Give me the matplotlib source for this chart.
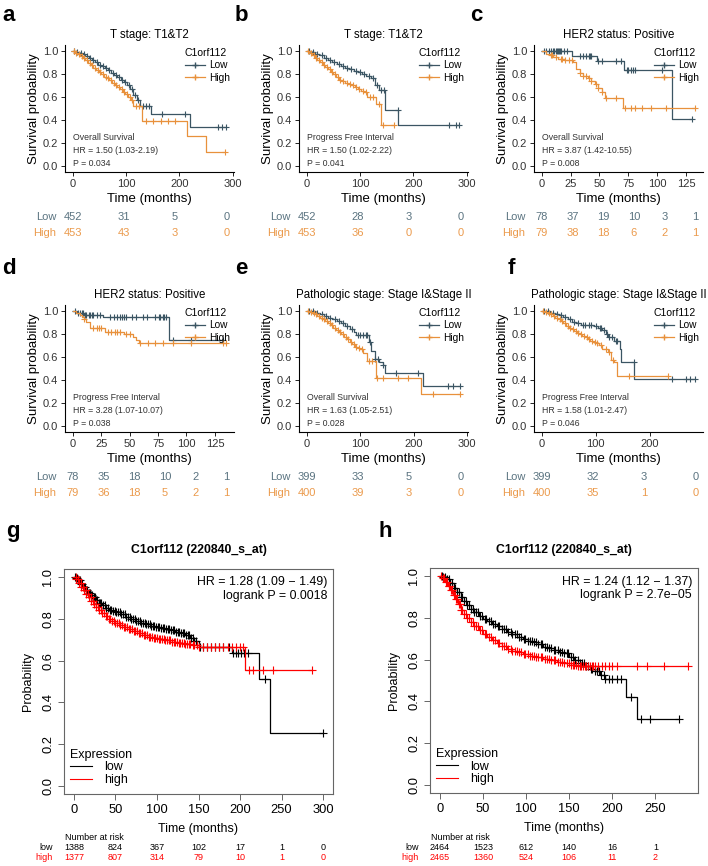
import matplotlib
matplotlib.use('Agg')
import matplotlib.pyplot as plt
import matplotlib.transforms as mtransforms
from matplotlib.lines import Line2D
import numpy as np

plt.rcParams['font.family'] = ['Liberation Sans', 'DejaVu Sans']

LOW_COL = '#3b5563'
HIGH_COL = '#e8913c'
LOW_TXT = '#5a7380'
HIGH_TXT = '#eb9a4c'

# ---------------- data: step times (months), survival after step, censor times
# a: OS, T stage T1&T2
a_low_t = [6, 12, 18, 24, 30, 36, 42, 48, 54, 60, 66, 72, 78, 84, 90, 96, 102, 108, 114, 120, 126, 146, 219]
a_low_s = [0.99, 0.98, 0.97, 0.955, 0.935, 0.92, 0.90, 0.88, 0.865, 0.85, 0.83, 0.81, 0.79, 0.77, 0.75, 0.73, 0.70, 0.665, 0.62, 0.575, 0.52, 0.455, 0.336]
a_low_c = [3, 9, 15, 21, 27, 33, 39, 45, 51, 57, 63, 69, 75, 81, 87, 93, 99, 105, 111, 117, 123, 131, 137, 143, 167, 210, 272, 280, 287]
a_high_t = [4, 9, 14, 19, 24, 29, 34, 39, 44, 49, 54, 59, 64, 69, 74, 79, 84, 89, 94, 99, 104, 109, 114, 130, 215, 249]
a_high_s = [0.985, 0.97, 0.955, 0.94, 0.92, 0.895, 0.875, 0.855, 0.835, 0.815, 0.795, 0.775, 0.76, 0.745, 0.725, 0.705, 0.685, 0.665, 0.645, 0.625, 0.60, 0.575, 0.52, 0.394, 0.264, 0.124]
a_high_c = [2, 7, 12, 17, 22, 27, 32, 37, 42, 47, 52, 57, 62, 67, 72, 77, 82, 87, 92, 97, 102, 107, 112, 118, 124, 138, 151, 165, 179, 191, 286]

# b: PFI, T stage T1&T2
b_low_t = [8, 16, 24, 32, 40, 48, 56, 64, 72, 80, 88, 96, 104, 112, 120, 128, 136, 147, 172]
b_low_s = [0.99, 0.975, 0.96, 0.94, 0.92, 0.905, 0.885, 0.865, 0.85, 0.84, 0.825, 0.815, 0.80, 0.785, 0.76, 0.70, 0.66, 0.484, 0.36]
b_low_c = [4, 12, 20, 28, 36, 44, 52, 60, 68, 76, 84, 92, 100, 108, 116, 124, 132, 140, 144, 171, 267, 280, 286]
b_high_t = [5, 10, 15, 20, 25, 30, 35, 40, 45, 50, 55, 60, 66, 72, 78, 84, 90, 96, 102, 108, 114, 130, 140]
b_high_s = [0.985, 0.965, 0.94, 0.92, 0.90, 0.88, 0.86, 0.84, 0.82, 0.80, 0.775, 0.75, 0.735, 0.72, 0.71, 0.70, 0.685, 0.67, 0.655, 0.64, 0.60, 0.536, 0.354]
b_high_c = [3, 8, 13, 18, 23, 28, 33, 38, 43, 48, 53, 58, 63, 69, 75, 81, 87, 93, 99, 105, 112, 118, 124, 135, 143, 164]

# c: OS, HER2 positive
c_low_t = [26, 48, 71, 113]
c_low_s = [0.954, 0.91, 0.83, 0.41]
c_low_c = [2, 4, 6, 8, 10, 11, 12, 13, 14, 15, 16, 17, 19, 22, 33, 36, 38, 41, 42, 43, 49, 52, 64, 69, 74, 75, 77, 79, 81, 104, 130]
c_high_t = [4, 7, 10, 14, 19, 27, 30, 33, 36, 40, 43, 46, 49, 52, 55, 70]
c_high_s = [0.975, 0.96, 0.945, 0.93, 0.92, 0.90, 0.84, 0.81, 0.785, 0.76, 0.735, 0.71, 0.68, 0.64, 0.59, 0.506]
c_high_c = [8, 9, 12, 17, 18, 20, 24, 26, 33, 36, 38, 41, 43, 47, 49, 52, 56, 64, 72, 77, 81, 87, 95, 108, 133]

# d: PFI, HER2 positive
d_low_t = [4, 10, 27, 85]
d_low_s = [0.98, 0.967, 0.95, 0.75]
d_low_c = [2, 5, 6, 8, 9, 11, 12, 14, 15, 17, 18, 21, 24, 33, 36, 39, 42, 43, 45, 47, 52, 56, 62, 65, 72, 76, 77, 79, 80, 82, 88, 104, 132]
d_high_t = [3, 6, 8, 10, 12, 15, 28, 45, 53, 56, 58]
d_high_s = [0.985, 0.965, 0.95, 0.93, 0.90, 0.853, 0.818, 0.80, 0.775, 0.75, 0.717]
d_high_c = [10, 18, 21, 23, 25, 31, 34, 37, 39, 42, 47, 50, 59, 66, 72, 79, 88, 104, 132, 135]

# e: OS, pathologic stage I&II
e_low_t = [8, 16, 24, 32, 40, 48, 56, 64, 72, 80, 88, 92, 116, 121, 127, 136, 142, 147, 217]
e_low_s = [0.995, 0.985, 0.97, 0.955, 0.94, 0.925, 0.91, 0.89, 0.87, 0.845, 0.815, 0.79, 0.727, 0.655, 0.583, 0.555, 0.526, 0.46, 0.345]
e_low_c = [4, 12, 20, 28, 36, 44, 52, 60, 68, 76, 84, 95, 100, 105, 110, 112, 119, 127, 133, 142, 167, 208, 264, 274, 286]
e_high_t = [5, 10, 15, 20, 25, 30, 35, 40, 45, 50, 55, 60, 65, 70, 75, 80, 85, 90, 95, 100, 106, 112, 129, 214]
e_high_s = [0.99, 0.98, 0.97, 0.955, 0.94, 0.925, 0.91, 0.895, 0.875, 0.855, 0.835, 0.815, 0.795, 0.775, 0.755, 0.73, 0.71, 0.69, 0.675, 0.665, 0.63, 0.563, 0.42, 0.28]
e_high_c = [3, 8, 13, 18, 23, 28, 33, 38, 43, 48, 53, 58, 63, 68, 73, 78, 83, 88, 93, 98, 104, 116, 122, 132, 142, 170, 189, 236, 286]

# f: PFI, pathologic stage I&II
f_low_t = [8, 16, 24, 32, 40, 48, 56, 64, 72, 84, 96, 104, 112, 118, 122, 134, 144, 147, 171]
f_low_s = [0.995, 0.985, 0.975, 0.96, 0.945, 0.925, 0.905, 0.89, 0.88, 0.875, 0.865, 0.85, 0.83, 0.80, 0.77, 0.74, 0.67, 0.555, 0.41]
f_low_c = [4, 12, 20, 28, 36, 44, 52, 60, 68, 76, 80, 88, 92, 100, 108, 110, 116, 120, 125, 130, 138, 140, 170, 241, 266, 275, 284]
f_high_t = [5, 10, 15, 20, 25, 30, 35, 40, 45, 50, 55, 60, 65, 70, 75, 80, 85, 90, 95, 100, 106, 112, 122, 128, 134, 139]
f_high_s = [0.99, 0.98, 0.97, 0.955, 0.94, 0.925, 0.91, 0.89, 0.87, 0.855, 0.84, 0.825, 0.81, 0.795, 0.78, 0.77, 0.755, 0.74, 0.73, 0.72, 0.70, 0.67, 0.64, 0.575, 0.555, 0.434]
f_high_c = [3, 8, 13, 18, 23, 28, 33, 38, 43, 48, 53, 58, 63, 68, 73, 78, 83, 88, 93, 98, 103, 110, 119, 125, 131, 161, 234]

# g: KM plotter, 220840_s_at
g_low_t = [3, 6, 9, 12, 15, 18, 21, 24, 27, 30, 34, 38, 42, 46, 50, 56, 62, 68, 74, 80, 86, 92, 98, 104, 110, 116, 122, 128, 134, 140, 145, 150, 190, 223, 236]
g_low_s = [0.995, 0.985, 0.97, 0.955, 0.94, 0.925, 0.915, 0.905, 0.89, 0.875, 0.865, 0.855, 0.845, 0.838, 0.832, 0.822, 0.812, 0.80, 0.79, 0.782, 0.775, 0.768, 0.762, 0.756, 0.75, 0.745, 0.738, 0.732, 0.722, 0.71, 0.695, 0.666, 0.637, 0.51, 0.255]
g_low_c = [1, 3, 4, 6, 7, 9, 10, 12, 13, 15, 16, 18, 19, 21, 22, 24, 25, 27, 28, 30, 31, 33, 35, 37, 39, 41, 43, 45, 47, 49, 51, 53, 55, 57, 59, 61, 63, 65, 67, 69, 71, 73, 75, 77, 79, 81, 83, 85, 87, 89, 91, 93, 95, 97, 99, 101, 103, 105, 107, 109, 111, 113, 115, 117, 119, 121, 123, 125, 127, 129, 131, 133, 135, 137, 139, 141, 143, 145, 147, 152, 156, 160, 165, 170, 175, 180, 187, 192, 195, 198, 201, 205, 210, 230, 300]
g_high_t = [3, 6, 9, 12, 15, 18, 21, 24, 27, 30, 34, 38, 42, 46, 50, 55, 60, 66, 72, 78, 84, 90, 96, 102, 110, 118, 126, 134, 142, 150, 206]
g_high_s = [0.99, 0.975, 0.955, 0.94, 0.922, 0.905, 0.888, 0.872, 0.858, 0.842, 0.828, 0.815, 0.80, 0.79, 0.782, 0.772, 0.763, 0.752, 0.741, 0.733, 0.725, 0.716, 0.71, 0.703, 0.697, 0.69, 0.685, 0.681, 0.675, 0.667, 0.554]
g_high_c = [2, 3, 5, 6, 8, 9, 11, 12, 14, 15, 17, 18, 20, 21, 23, 24, 26, 27, 29, 30, 32, 34, 36, 38, 40, 42, 44, 46, 48, 50, 52, 54, 56, 58, 60, 62, 64, 66, 68, 70, 72, 74, 76, 78, 80, 82, 84, 86, 88, 90, 92, 94, 96, 98, 100, 102, 104, 106, 108, 110, 112, 114, 116, 118, 120, 122, 124, 126, 128, 130, 132, 134, 136, 138, 140, 143, 145, 148, 150, 155, 160, 165, 170, 175, 180, 185, 190, 195, 200, 204, 211, 216, 228, 240, 287]

# h: KM plotter, 220840_s_at (second cohort)
h_low_t = [4, 8, 12, 16, 20, 24, 28, 32, 36, 40, 45, 50, 55, 60, 66, 72, 78, 84, 90, 96, 102, 108, 114, 120, 126, 132, 138, 144, 150, 156, 162, 168, 174, 180, 186, 192, 216, 229]
h_low_s = [0.995, 0.985, 0.97, 0.945, 0.925, 0.90, 0.88, 0.862, 0.845, 0.83, 0.812, 0.797, 0.785, 0.773, 0.76, 0.745, 0.735, 0.722, 0.71, 0.70, 0.692, 0.684, 0.675, 0.662, 0.655, 0.648, 0.638, 0.63, 0.612, 0.597, 0.585, 0.57, 0.556, 0.545, 0.528, 0.505, 0.419, 0.315]
h_low_c = [2, 4, 6, 8, 10, 12, 14, 16, 18, 20, 22, 24, 26, 28, 30, 32, 34, 36, 38, 40, 42, 44, 47, 49, 52, 54, 57, 59, 62, 64, 67, 69, 72, 74, 77, 79, 82, 84, 87, 89, 92, 94, 97, 99, 102, 104, 107, 109, 112, 114, 117, 119, 122, 124, 127, 129, 132, 134, 137, 139, 142, 144, 147, 149, 152, 155, 157, 160, 162, 165, 167, 170, 172, 175, 177, 180, 182, 185, 187, 190, 192, 196, 200, 205, 210, 222, 233, 244, 277]
h_high_t = [3, 6, 9, 12, 15, 18, 21, 24, 28, 32, 36, 40, 45, 50, 55, 60, 66, 72, 78, 84, 90, 96, 104, 112, 120, 128, 136, 144, 152, 160]
h_high_s = [0.99, 0.975, 0.955, 0.935, 0.91, 0.89, 0.865, 0.84, 0.82, 0.80, 0.78, 0.762, 0.742, 0.725, 0.71, 0.695, 0.68, 0.665, 0.652, 0.642, 0.635, 0.628, 0.62, 0.612, 0.605, 0.598, 0.59, 0.582, 0.575, 0.57]
h_high_c = [1, 3, 5, 7, 8, 10, 11, 13, 14, 16, 17, 19, 20, 22, 23, 25, 26, 28, 30, 32, 34, 36, 38, 40, 42, 44, 47, 49, 52, 54, 57, 59, 62, 64, 67, 69, 72, 74, 77, 79, 82, 84, 87, 89, 92, 94, 97, 99, 102, 104, 107, 109, 112, 114, 117, 119, 122, 124, 127, 129, 132, 134, 137, 139, 142, 144, 147, 150, 152, 154, 156, 158, 160, 162, 164, 166, 168, 170, 172, 174, 176, 178, 180, 184, 188, 192, 196, 200, 205, 229, 240, 260, 288]

# numbers at risk
risk_a = ([452, 31, 5, 0], [453, 43, 3, 0])
risk_b = ([452, 28, 3, 0], [453, 36, 0, 0])
risk_c = ([78, 37, 19, 10, 3, 1], [79, 38, 18, 6, 2, 1])
risk_d = ([78, 35, 18, 10, 2, 1], [79, 36, 18, 5, 2, 1])
risk_e = ([399, 33, 5, 0], [400, 39, 3, 0])
risk_f = ([399, 32, 3, 0], [400, 35, 1, 0])
risk_g = ([1388, 824, 367, 102, 17, 1, 0], [1377, 807, 314, 79, 10, 1, 0])
risk_h = ([2464, 1523, 612, 140, 16, 1], [2465, 1360, 524, 106, 11, 2])

breaks_300 = [0, 100, 200, 300]
breaks_125 = [0, 25, 50, 75, 100, 125]

W, H = 708, 866
fig = plt.figure(figsize=(W / 100, H / 100), dpi=100)


def px_axes(x0, y0, x1, y1):
    return fig.add_axes([x0 / W, 1 - y1 / H, (x1 - x0) / W, (y1 - y0) / H])


def km(ax, t, s, cens, color, lw=0.9, ms=4.5):
    t = np.asarray(t, float)
    s = np.asarray(s, float)
    cens = np.asarray(cens, float)
    end = max(t[-1], cens[-1])
    xs = np.concatenate([[0], t, [end]])
    ys = np.concatenate([[1.0], s, [s[-1]]])
    ax.step(xs, ys, where='post', color=color, lw=lw, zorder=3)
    cy = np.concatenate([[1.0], s])[np.searchsorted(t, cens, side='right')]
    ax.plot(cens, cy, ls='none', marker='+', color=color, ms=ms, mew=lw * 0.9, zorder=3)


def surv_panel(x0, y0, T, breaks, title, tag, tag_x, tag_y, low, high, stat, risk):
    ax = px_axes(x0, y0, x0 + 169, y0 + 127)
    km(ax, *low, LOW_COL)
    km(ax, *high, HIGH_COL)
    ax.set_xlim(-0.05 * T, 1.05 * T)
    ax.set_ylim(-0.05, 1.05)
    ax.set_xticks([b for b in breaks if b <= 1.05 * T])
    ax.set_yticks([0, 0.2, 0.4, 0.6, 0.8, 1.0])
    ax.set_yticklabels(['0.0', '0.2', '0.4', '0.6', '0.8', '1.0'])
    for sp in ['top', 'right']:
        ax.spines[sp].set_visible(False)
    for sp in ['left', 'bottom']:
        ax.spines[sp].set_linewidth(0.8)
    ax.tick_params(length=3, width=0.6, labelsize=8, labelcolor='#333333', pad=2)
    ax.set_ylabel('Survival probability', fontsize=9.5, labelpad=2)
    ax.set_xlabel('Time (months)', fontsize=9.5, labelpad=3)
    ax.text(0.5, 1 + 10 / 127, title, transform=ax.transAxes, ha='center', va='center', fontsize=8.3)
    fig.text(tag_x / W, 1 - tag_y / H, tag, fontsize=16, fontweight='bold', va='baseline')
    for i, line in enumerate(stat):
        ax.text(0.05, 0.27 - i * 0.1, line, transform=ax.transAxes, fontsize=6.3,
                color='#333333', va='center')
    handles = [Line2D([], [], color=LOW_COL, marker='+', lw=0.9, ms=5),
               Line2D([], [], color=HIGH_COL, marker='+', lw=0.9, ms=5)]
    ax.legend(handles, ['Low', 'High'], title='C1orf112', loc='upper left',
              bbox_to_anchor=(0.71, 0.98), frameon=False, fontsize=7.3, title_fontsize=7.5,
              handlelength=2.0, handletextpad=0.4, labelspacing=0.25, borderaxespad=0,
              borderpad=0, alignment='left')
    # risk table
    B = breaks[-1]
    rax = px_axes(x0, y0 + 164.5, x0 + 169, y0 + 195.5)
    rax.set_xlim(-0.05 * B, 1.05 * B)
    rax.set_ylim(0, 2)
    rax.axis('off')
    for row, (vals, lab, col) in enumerate([(risk[0], 'Low', LOW_TXT), (risk[1], 'High', HIGH_TXT)]):
        yy = 1.5 - row
        rax.text(-0.05, yy, lab, transform=mtransforms.blended_transform_factory(rax.transAxes, rax.transData),
                 ha='right', va='center', fontsize=8, color=col)
        for b, v in zip(breaks, vals):
            rax.text(b, yy, str(v), ha='center', va='center', fontsize=8, color=col)
    return ax


surv_panel(65, 45, 288, breaks_300, 'T stage: T1&T2', 'a', 2, 21,
           (a_low_t, a_low_s, a_low_c), (a_high_t, a_high_s, a_high_c),
           ['Overall Survival', 'HR = 1.50 (1.03-2.19)', 'P = 0.034'], risk_a)
surv_panel(299, 45, 288, breaks_300, 'T stage: T1&T2', 'b', 235, 21,
           (b_low_t, b_low_s, b_low_c), (b_high_t, b_high_s, b_high_c),
           ['Progress Free Interval', 'HR = 1.50 (1.02-2.22)', 'P = 0.041'], risk_b)
surv_panel(534, 45, 133, breaks_125, 'HER2 status: Positive', 'c', 470, 21,
           (c_low_t, c_low_s, c_low_c), (c_high_t, c_high_s, c_high_c),
           ['Overall Survival', 'HR = 3.87 (1.42-10.55)', 'P = 0.008'], risk_c)
surv_panel(65, 305, 135, breaks_125, 'HER2 status: Positive', 'd', 2, 274,
           (d_low_t, d_low_s, d_low_c), (d_high_t, d_high_s, d_high_c),
           ['Progress Free Interval', 'HR = 3.28 (1.07-10.07)', 'P = 0.038'], risk_d)
surv_panel(299, 305, 287, breaks_300, 'Pathologic stage: Stage I&Stage II', 'e', 235, 274,
           (e_low_t, e_low_s, e_low_c), (e_high_t, e_high_s, e_high_c),
           ['Overall Survival', 'HR = 1.63 (1.05-2.51)', 'P = 0.028'], risk_e)
surv_panel(534, 305, 284, breaks_300, 'Pathologic stage: Stage I&Stage II', 'f', 508, 274,
           (f_low_t, f_low_s, f_low_c), (f_high_t, f_high_s, f_high_c),
           ['Progress Free Interval', 'HR = 1.58 (1.01-2.47)', 'P = 0.046'], risk_f)


def kmplot_panel(box, tmax, breaks, tag, tag_x, low, high, hr, pval, risk):
    x0, y0, x1, y1 = box
    ax = px_axes(x0, y0, x1, y1)
    km(ax, *low, 'black', lw=0.9, ms=6)
    km(ax, *high, 'red', lw=0.9, ms=6)
    ax.set_xlim(-0.04 * tmax, 1.04 * tmax)
    ax.set_ylim(-0.04, 1.04)
    ax.set_xticks(breaks)
    ax.set_yticks([0, 0.2, 0.4, 0.6, 0.8, 1.0])
    ax.set_yticklabels(['0.0', '0.2', '0.4', '0.6', '0.8', '1.0'], rotation=90, va='center')
    for sp in ax.spines.values():
        sp.set_color('#666666')
        sp.set_linewidth(0.8)
    ax.tick_params(length=4, width=0.7, color='#666666', labelsize=9.3, pad=3)
    ax.set_ylabel('Probability', fontsize=9, labelpad=6)
    ax.set_xlabel('Time (months)', fontsize=9, labelpad=5)
    fig.text((x0 + x1) / 2 / W, 1 - 550 / H, 'C1orf112 (220840_s_at)', ha='center', va='center',
             fontsize=8.8, fontweight='bold')
    fig.text(tag_x / W, 1 - 537 / H, tag, fontsize=16, fontweight='bold', va='baseline')
    ax.text(0.978, 0.94, hr, transform=ax.transAxes, ha='right', va='center', fontsize=8.9)
    ax.text(0.978, 0.878, pval, transform=ax.transAxes, ha='right', va='center', fontsize=8.9)
    handles = [Line2D([], [], color='black', lw=0.8), Line2D([], [], color='red', lw=0.8)]
    ax.legend(handles, ['low', 'high'], title='Expression', loc='lower left',
              bbox_to_anchor=(0.022, 0.035), frameon=False, fontsize=9, title_fontsize=9,
              handlelength=1.8, handletextpad=0.9, labelspacing=0.05, borderaxespad=0,
              borderpad=0, alignment='left')
    tr = mtransforms.blended_transform_factory(ax.transData, fig.transFigure)
    fig.text(x0 / W + 0.001, 1 - 838 / H, 'Number at risk', fontsize=6.5, va='center')
    for row, (vals, lab, col) in enumerate([(risk[0], 'low', 'black'), (risk[1], 'high', 'red')]):
        yy = 1 - (848 + 10 * row) / H
        fig.text((x0 - 11) / W, yy, lab, fontsize=6.5, color=col, ha='right', va='center')
        for b, v in zip(breaks, vals):
            ax.text(b, yy, str(v), transform=tr, ha='center', va='center', fontsize=6.5, color=col)


kmplot_panel((64, 569, 333, 794), 300, [0, 50, 100, 150, 200, 250, 300], 'g', 6,
             (g_low_t, g_low_s, g_low_c), (g_high_t, g_high_s, g_high_c),
             'HR = 1.28 (1.09 \u2212 1.49)', 'logrank P = 0.0018', risk_g)
kmplot_panel((430, 568, 698, 793), 288, [0, 50, 100, 150, 200, 250], 'h', 378,
             (h_low_t, h_low_s, h_low_c), (h_high_t, h_high_s, h_high_c),
             'HR = 1.24 (1.12 \u2212 1.37)', 'logrank P = 2.7e\u221205', risk_h)

fig.savefig('out.png', dpi=100)
